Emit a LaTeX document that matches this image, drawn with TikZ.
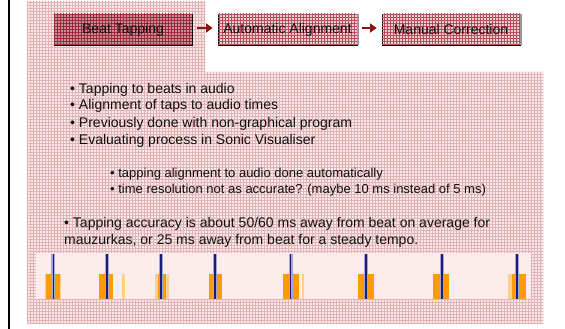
\documentclass[tikz,border=0pt]{standalone}
\usepackage{fontspec}
\setmainfont{Liberation Sans}
\usetikzlibrary{patterns,arrows.meta}

\definecolor{bgbase}{HTML}{F8EAEA}
\definecolor{bggrid}{HTML}{E2B2B4}
\definecolor{boxdark}{HTML}{D08C96}
\definecolor{boxdarkgrid}{HTML}{9A2A3C}
\definecolor{boxlight}{HTML}{EFCCD0}
\definecolor{boxlightgrid}{HTML}{B84E5C}
\definecolor{arrowred}{HTML}{8B1414}
\definecolor{stripbg}{HTML}{FDECEC}
\definecolor{beatblue}{HTML}{1C1C78}
\definecolor{beathalo}{HTML}{A4A4D8}
\definecolor{tapmain}{HTML}{FF9A00}
\definecolor{tappale}{HTML}{FFD08C}
\definecolor{textdark}{HTML}{101010}

\tikzset{
  stagebox/.style={draw=black, line width=0.8pt, minimum height=31pt, inner sep=0pt,
    font=\fontsize{14}{16}\selectfont, text=textdark},
  darkstage/.style={stagebox, fill=boxdark,
    postaction={pattern=grid, pattern color=boxdarkgrid}},
  lightstage/.style={stagebox, fill=boxlight,
    postaction={pattern=grid, pattern color=boxlightgrid}},
  stagearrow/.style={draw=arrowred, line width=2.6pt,
    -{Triangle[length=6.5pt,width=9pt]}, shorten <=5pt, shorten >=5pt},
  shadowedge/.style={draw=gray!80, line width=1.8pt},
  mainline/.style={anchor=base west, inner sep=0pt, text=textdark,
    font=\fontsize{14}{16}\selectfont},
  subline/.style={anchor=base west, inner sep=0pt, text=textdark,
    font=\fontsize{13}{15}\selectfont},
  beatmark/.style={line width=1.8pt, draw=beatblue,
    preaction={draw=beathalo, line width=4pt}},
  tapblock/.style={fill=tapmain},
  tapfaint/.style={fill=tappale}
}

\begin{document}
\begin{tikzpicture}[x=1pt, y=-1pt]
\useasboundingbox (0,0) rectangle (565,329);
\fill[white] (0,0) rectangle (565,329);

% left rule
\fill[black] (8,0) rectangle (10,329);

% patterned slide background
\fill[bgbase] (27,1) -- (205,1) -- (205,72) -- (543,72) -- (543,324) -- (27,324) -- cycle;
\fill[pattern=grid, pattern color=bggrid]
  (27,1) -- (205,1) -- (205,72) -- (543,72) -- (543,324) -- (27,324) -- cycle;

% process stages
\node[darkstage, minimum width=138pt] (bt) at (123,29.5) {};
\node[lightstage, minimum width=139pt] (aa) at (287.5,29.5) {};
\node[lightstage, minimum width=138pt] (mc) at (451,29.5) {};
\node[stagebox, draw=none, fill=none] at (bt.center) {Beat Tapping};
\node[stagebox, draw=none, fill=none] at (aa.center) {Automatic Alignment};
\node[stagebox, draw=none, fill=none] at (mc.center) {Manual Correction};
\draw[shadowedge] ([xshift=0.9pt]aa.north east) -- ([xshift=0.9pt]aa.south east);
\draw[shadowedge] ([xshift=0.9pt]mc.north east) -- ([xshift=0.9pt]mc.south east);
\draw[stagearrow] ([yshift=1.5pt]bt.east) -- ([yshift=1.5pt]aa.west);
\draw[stagearrow] ([yshift=1.5pt]aa.east) -- ([yshift=1.5pt]mc.west);

% bullet text
\node[mainline] (l1) at (70,93) {• Tapping to beats in audio};
\node[mainline] (l2) at (70,110) {• Alignment of taps to audio times};
\node[mainline] (l3) at (70,127) {• Previously done with non-graphical program};
\node[mainline] (l4) at (70,144) {• Evaluating process in Sonic Visualiser};
\node[subline] (s1) at (110,177) {• tapping alignment to audio done automatically};
\node[subline] (s2) at (110,193) {• time resolution not as accurate? (maybe 10 ms instead of 5 ms)};
\node[mainline] (a1) at (64,227) {• Tapping accuracy is about 50/60 ms away from beat on average for};
\node[mainline] (a2) at (64,244) {mauzurkas, or 25 ms away from beat for a steady tempo.};

% beat / tap strip
\fill[stripbg] (36,253) rectangle (531,299);
% taps (orange)
\fill[tapfaint] (44.5,274) rectangle (61,299);
\fill[tapblock] (46,274) rectangle (59.5,299);
\fill[tapblock] (99.2,274) rectangle (113.4,299);
\fill[tapfaint] (122,274) rectangle (124.5,299);
\fill[tapfaint] (154.5,274) rectangle (168.5,299);
\fill[tapblock] (158,274) rectangle (166,299);
\fill[tapblock] (209.3,274) rectangle (221.8,299);
\fill[tapblock] (283.2,274) rectangle (298.8,299);
\fill[tapfaint] (301.6,274) rectangle (304,299);
\fill[tapblock] (358.2,274) rectangle (373.5,299);
\fill[tapblock] (432.5,274) rectangle (448.5,299);
\fill[tapfaint] (508,274) rectangle (526,299);
\fill[tapblock] (511.5,274) rectangle (526,299);
% beats (blue)
\foreach \bx in {53.4,107.2,160.7,214.8,290.5,365.9,441.6,517.2}
  \draw[beatmark] (\bx,254) -- (\bx,299);
\end{tikzpicture}
\end{document}
